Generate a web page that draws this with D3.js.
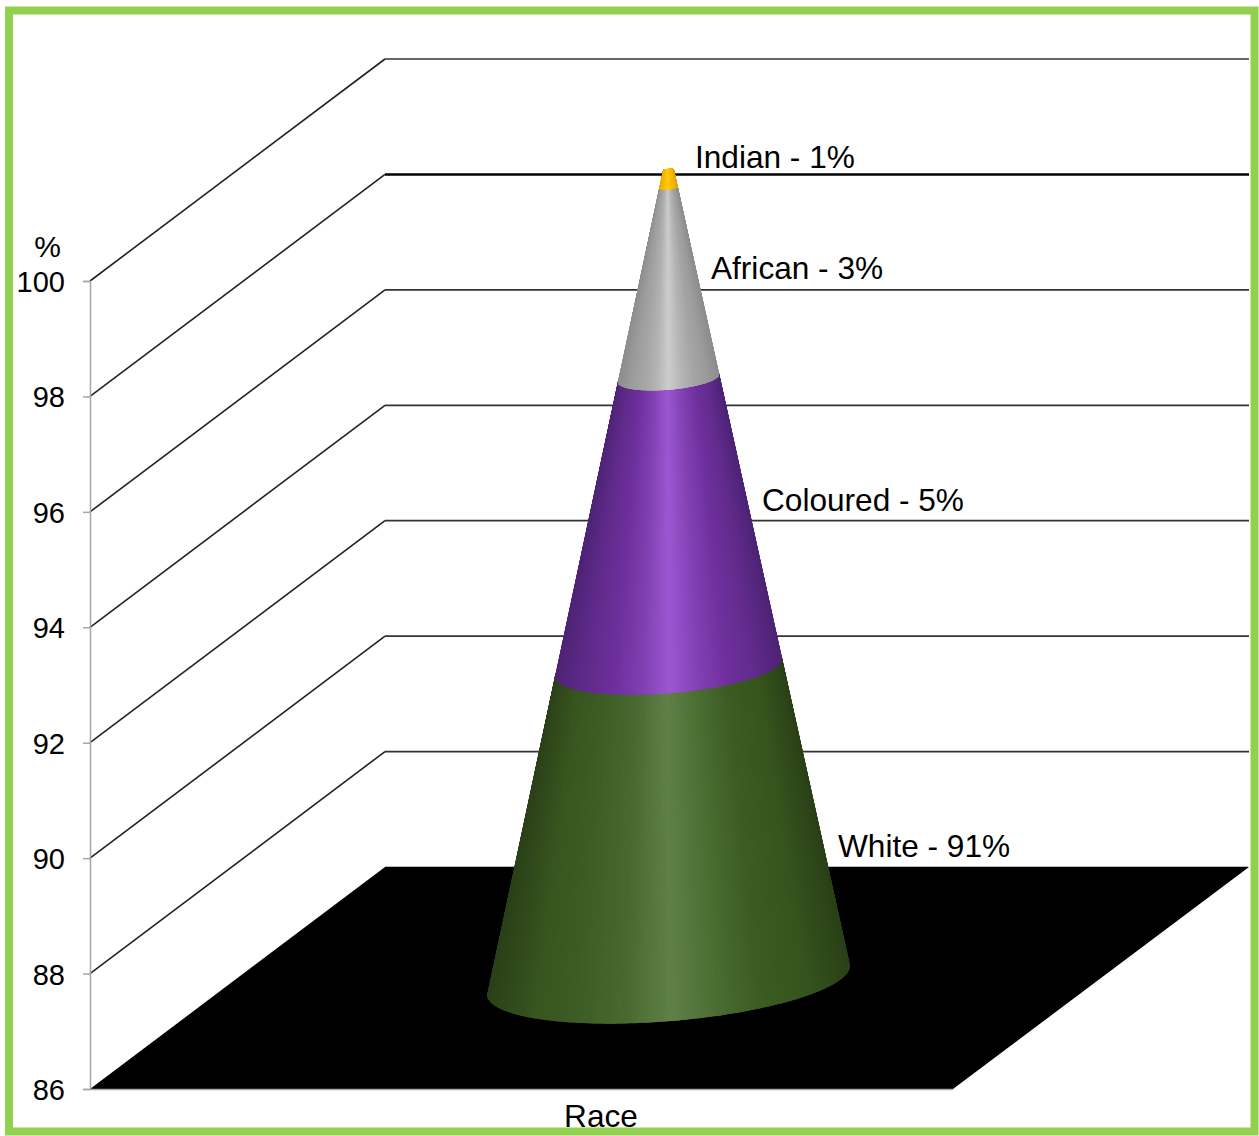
<!DOCTYPE html>
<html>
<head>
<meta charset="utf-8">
<script src="https://cdn.jsdelivr.net/npm/d3@7/dist/d3.min.js"></script>
<style>
html,body{margin:0;padding:0;background:#fff;overflow:hidden}
svg{display:block}
text{font-family:"Liberation Sans",Arial,sans-serif;fill:#000}
</style>
</head>
<body>
<svg id="c" width="1259" height="1136"></svg>
<script>
// ---- data ----
const categories = ["White", "Coloured", "African", "Indian"];
const drawnValues = [91.4, 5.0, 3.3, 0.3];
const labelTexts = ["White - 91%", "Coloured - 5%", "African - 3%", "Indian - 1%"];
const tickValues = [86, 88, 90, 92, 94, 96, 98, 100];
const axisTitle = "%";
const categoryTitle = "Race";

// ---- layout ----
const W = 1259, H = 1136;
const svg = d3.select("#c");
const front = {x0: 90, x1: 953};
const depth = {dx: 295, dy: -222};
const y = d3.scaleLinear().domain([86, 100]).range([1089, 281]);

const shades = {
  White:    ["#2b4019","#38561f","#3d5e26","#48692f","#5f8149","#4b6e33","#3b5c23","#36551e","#2b4118"],
  Coloured: ["#4e2476","#602b8b","#6e309c","#8040b0","#9c57d2","#8342b4","#70319e","#622c8d","#4e2476"],
  African:  ["#8e8e8e","#9c9c9c","#a6a6a6","#b4b4b4","#cdcdcd","#b6b6b6","#a6a6a6","#9c9c9c","#8e8e8e"],
  Indian:   ["#e0a800","#f0b400","#f8ba00","#ffc000","#ffd020","#ffc000","#f8ba00","#f0b400","#e0a800"]
};

// border
svg.append("rect").attr("x",9).attr("y",10.5).attr("width",1245.5).attr("height",1121)
  .attr("fill","#fff").attr("stroke","#92d050").attr("stroke-width",8);

// walls: gridlines
const grid = svg.append("g").attr("fill","none");
tickValues.forEach(v => {
  const yy = y(v);
  if (v === 86) return;
  grid.append("path")
    .attr("d", d3.line()([[front.x0, yy],[front.x0+depth.dx, yy+depth.dy]]))
    .attr("stroke", "#222").attr("stroke-width", 1.6);
  grid.append("path")
    .attr("d", d3.line()([[front.x0+depth.dx, yy+depth.dy],[front.x1+depth.dx+1, yy+depth.dy]]))
    .attr("stroke", v === 98 ? "#000" : "#333")
    .attr("stroke-width", v === 98 ? 2.4 : 1.7);
});

// floor
const y0 = y(86);
svg.append("path")
  .attr("d", d3.line()([[front.x0,y0],[front.x0+depth.dx,y0+depth.dy],[front.x1+depth.dx+1,y0+depth.dy],[front.x1,y0]])+"Z")
  .attr("fill","#000");
svg.append("line").attr("x1",front.x0+depth.dx).attr("x2",front.x1+depth.dx)
  .attr("y1",y0+depth.dy-0.5).attr("y2",y0+depth.dy-0.5).attr("stroke","#bbb").attr("stroke-width",1);

// axes
const axis = d3.axisLeft(y).tickValues(tickValues).tickSize(7).tickPadding(18).tickFormat(d3.format("d"));
const ax = svg.append("g").attr("transform",`translate(${front.x0},0)`).call(axis);
ax.selectAll("path,line").attr("stroke","#a6a6a6").attr("stroke-width",1.5);
ax.selectAll("text").attr("font-size",29).attr("font-family",'"Liberation Sans",Arial,sans-serif').attr("fill","#000").attr("dy","0.36em");
svg.append("line").attr("x1",front.x0).attr("x2",front.x1).attr("y1",y0+0.5).attr("y2",y0+0.5)
  .attr("stroke","#a6a6a6").attr("stroke-width",1.5);
svg.append("text").attr("x",61).attr("y",257).attr("text-anchor","end").attr("font-size",30).text(axisTitle);
svg.append("text").attr("x",601).attr("y",1126.5).attr("text-anchor","middle").attr("font-size",31.6).text(categoryTitle);

// cone
const coneY = d3.scaleLinear().domain([86,100]).range([980,170]);
const coneR = d3.scaleLinear().domain([86,100]).range([1,0.03]);
const coneX = 668.5;
const u = [181.5,-15], vv = [3,41];
const pt = (val, t, sgn=1) => {
  const r = coneR(val), cy = coneY(val);
  return [coneX + r*(Math.cos(t)*u[0] + sgn*Math.sin(t)*vv[0]),
          cy    + r*(Math.cos(t)*u[1] + sgn*Math.sin(t)*vv[1])];
};
const defs = svg.append("defs");
const cone = svg.append("g");
const N = 160;
const ts = d3.range(N+1).map(i => Math.PI*(1 - i/N));
let cum = 0;
categories.forEach((cat,i) => {
  const lo = Math.max(cum, y.domain()[0]);
  const top = cum + drawnValues[i];
  const outline = ts.map(t => pt(lo,t,1)).concat(ts.slice().reverse().map(t => pt(top,t,-1)));
  const id = "clip"+i;
  defs.append("clipPath").attr("id",id).append("path").attr("d",d3.line()(outline)+"Z");
  const g = cone.append("g").attr("clip-path",`url(#${id})`);
  const col = d3.scaleLinear().domain(d3.range(9).map(k => -1 + k/4)).range(shades[cat]).interpolate(d3.interpolateRgb);
  d3.range(N).forEach(k => {
    const a = ts[k], b = ts[k+1], m = (a+b)/2;
    const c = col(Math.cos(m));
    g.append("path")
      .attr("d", d3.line()([pt(lo,a,1),pt(lo,b,1),pt(top,b,-1),pt(top,a,-1)])+"Z")
      .attr("fill",c).attr("stroke",c).attr("stroke-width",1.2);
  });
  cum = top;
});

// labels
const labelAnchors = [[838,856.5],[762,510.5],[711,278.5],[695,167.5]];
labelTexts.forEach((s,i) => {
  svg.append("text").attr("x",labelAnchors[i][0]).attr("y",labelAnchors[i][1]).attr("font-size",31.6).text(s);
});
</script>
</body>
</html>
